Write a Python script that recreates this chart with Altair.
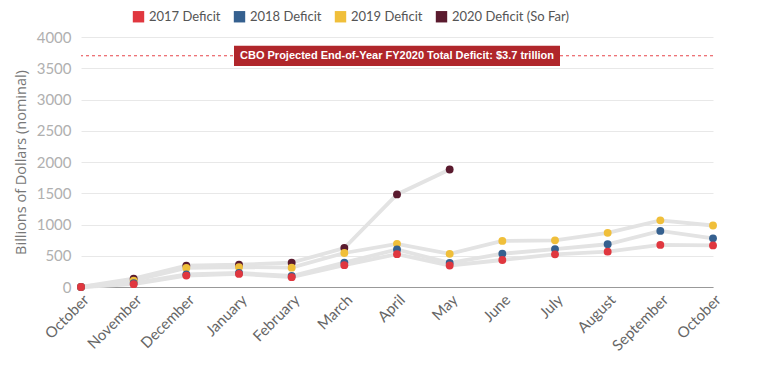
import altair as alt
import pandas as pd

months = ["October", "November", "December", "January", "February", "March", "April",
          "May", "June", "July", "August", "September", "October"]
series_names = ["2017 Deficit", "2018 Deficit", "2019 Deficit", "2020 Deficit (So Far)"]
colors = ["#e0373f", "#35608f", "#f0bf3a", "#5a1a2e"]

d2017 = [0, 45, 183, 210, 158, 350, 526, 344, 432, 523, 566, 674, 666]
d2018 = [0, 63, 202, 225, 176, 391, 600, 385, 532, 607, 684, 898, 779]
d2019 = [0, 100, 305, 319, 310, 544, 691, 531, 738, 747, 867, 1067, 984]
d2020 = [0, 134, 343, 356, 389, 624, 1481, 1880]

y_ticks = [0, 500, 1000, 1500, 2000, 2500, 3000, 3500, 4000]

cbo_value = 3700
cbo_label = "CBO Projected End-of-Year FY2020 Total Deficit: $3.7 trillion"
box_x = [2.905, 9.095]
box_y = [3535, 3860]
label_x = 6.0

rows = []
for k, (name, vals) in enumerate(zip(series_names, [d2017, d2018, d2019, d2020])):
    for i, v in enumerate(vals):
        rows.append({"series": name, "rank": k, "idx": i, "value": v})
df = pd.DataFrame(rows)

label_expr = "[" + ",".join("'%s'" % m for m in months) + "][datum.value]"

x_scale = alt.Scale(domain=[0, 12], nice=False)
y_scale = alt.Scale(domain=[0, 4000], nice=False)
x_axis = alt.Axis(values=list(range(13)), labelExpr=label_expr, title=None,
                  labelAngle=-45, labelColor="#666", labelFontSize=15,
                  labelFont="Lato", domainColor="#999", ticks=False, grid=False,
                  labelPadding=5, labelOverlap=False)
y_axis = alt.Axis(values=y_ticks, format="d",
                  title="Billions of Dollars (nominal)",
                  titleColor="#777", titleFontSize=14.5, titleFontWeight="normal",
                  titleFont="Open Sans", labelColor="#b0b0b0", labelFontSize=15,
                  labelFont="Lato", labelOverlap=False,
                  domain=False, ticks=False, gridColor="#e8e8e8", labelPadding=10,
                  titlePadding=8)

base = alt.Chart(df)

lines = base.mark_line(color="#e3e3e3", strokeWidth=3.8).encode(
    x=alt.X("idx:Q", scale=x_scale, axis=x_axis),
    y=alt.Y("value:Q", scale=y_scale, axis=y_axis),
    detail="series:N")

points = base.mark_circle(size=62, opacity=1).encode(
    x=alt.X("idx:Q", scale=x_scale, axis=x_axis),
    y=alt.Y("value:Q", scale=y_scale, axis=y_axis),
    order=alt.Order("rank:Q", sort="descending"),
    color=alt.Color("series:N", scale=alt.Scale(domain=series_names, range=colors),
                    legend=alt.Legend(title=None, orient="none", direction="horizontal",
                                      legendX=51, legendY=-27, symbolType="square",
                                      symbolSize=130, symbolStrokeWidth=0, labelFontSize=13,
                                      labelColor="#555", labelFont="Lato", columnPadding=12,
                                      symbolOpacity=1)))

cbo_df = pd.DataFrame({"v": [cbo_value]})
cbo_line = alt.Chart(cbo_df).mark_rule(color="#e8454b", strokeDash=[3, 3], strokeWidth=1.2).encode(
    y=alt.Y("v:Q", scale=y_scale, axis=y_axis))

box_df = pd.DataFrame({"x1": [box_x[0]], "x2": [box_x[1]], "y1": [box_y[0]], "y2": [box_y[1]],
                       "xt": [label_x], "yt": [cbo_value], "t": [cbo_label]})
box = alt.Chart(box_df).mark_rect(color="#b0262b").encode(
    x=alt.X("x1:Q", scale=x_scale, axis=x_axis), x2="x2:Q",
    y=alt.Y("y1:Q", scale=y_scale, axis=y_axis), y2="y2:Q")
box_text = alt.Chart(box_df).mark_text(color="white", fontWeight="bold", fontSize=11,
                                       font="Liberation Sans", baseline="middle").encode(
    x=alt.X("xt:Q", scale=x_scale, axis=x_axis),
    y=alt.Y("yt:Q", scale=y_scale, axis=y_axis), text="t:N")

chart = alt.layer(lines, points, cbo_line, box, box_text).properties(
    width=632, height=250,
    autosize=alt.AutoSizeParams(type="none"),
    padding={"left": 73, "top": 29, "right": 38, "bottom": 80}
).configure_view(stroke=None)

chart.save("out.html", embed_options={"renderer": "svg", "actions": False})
